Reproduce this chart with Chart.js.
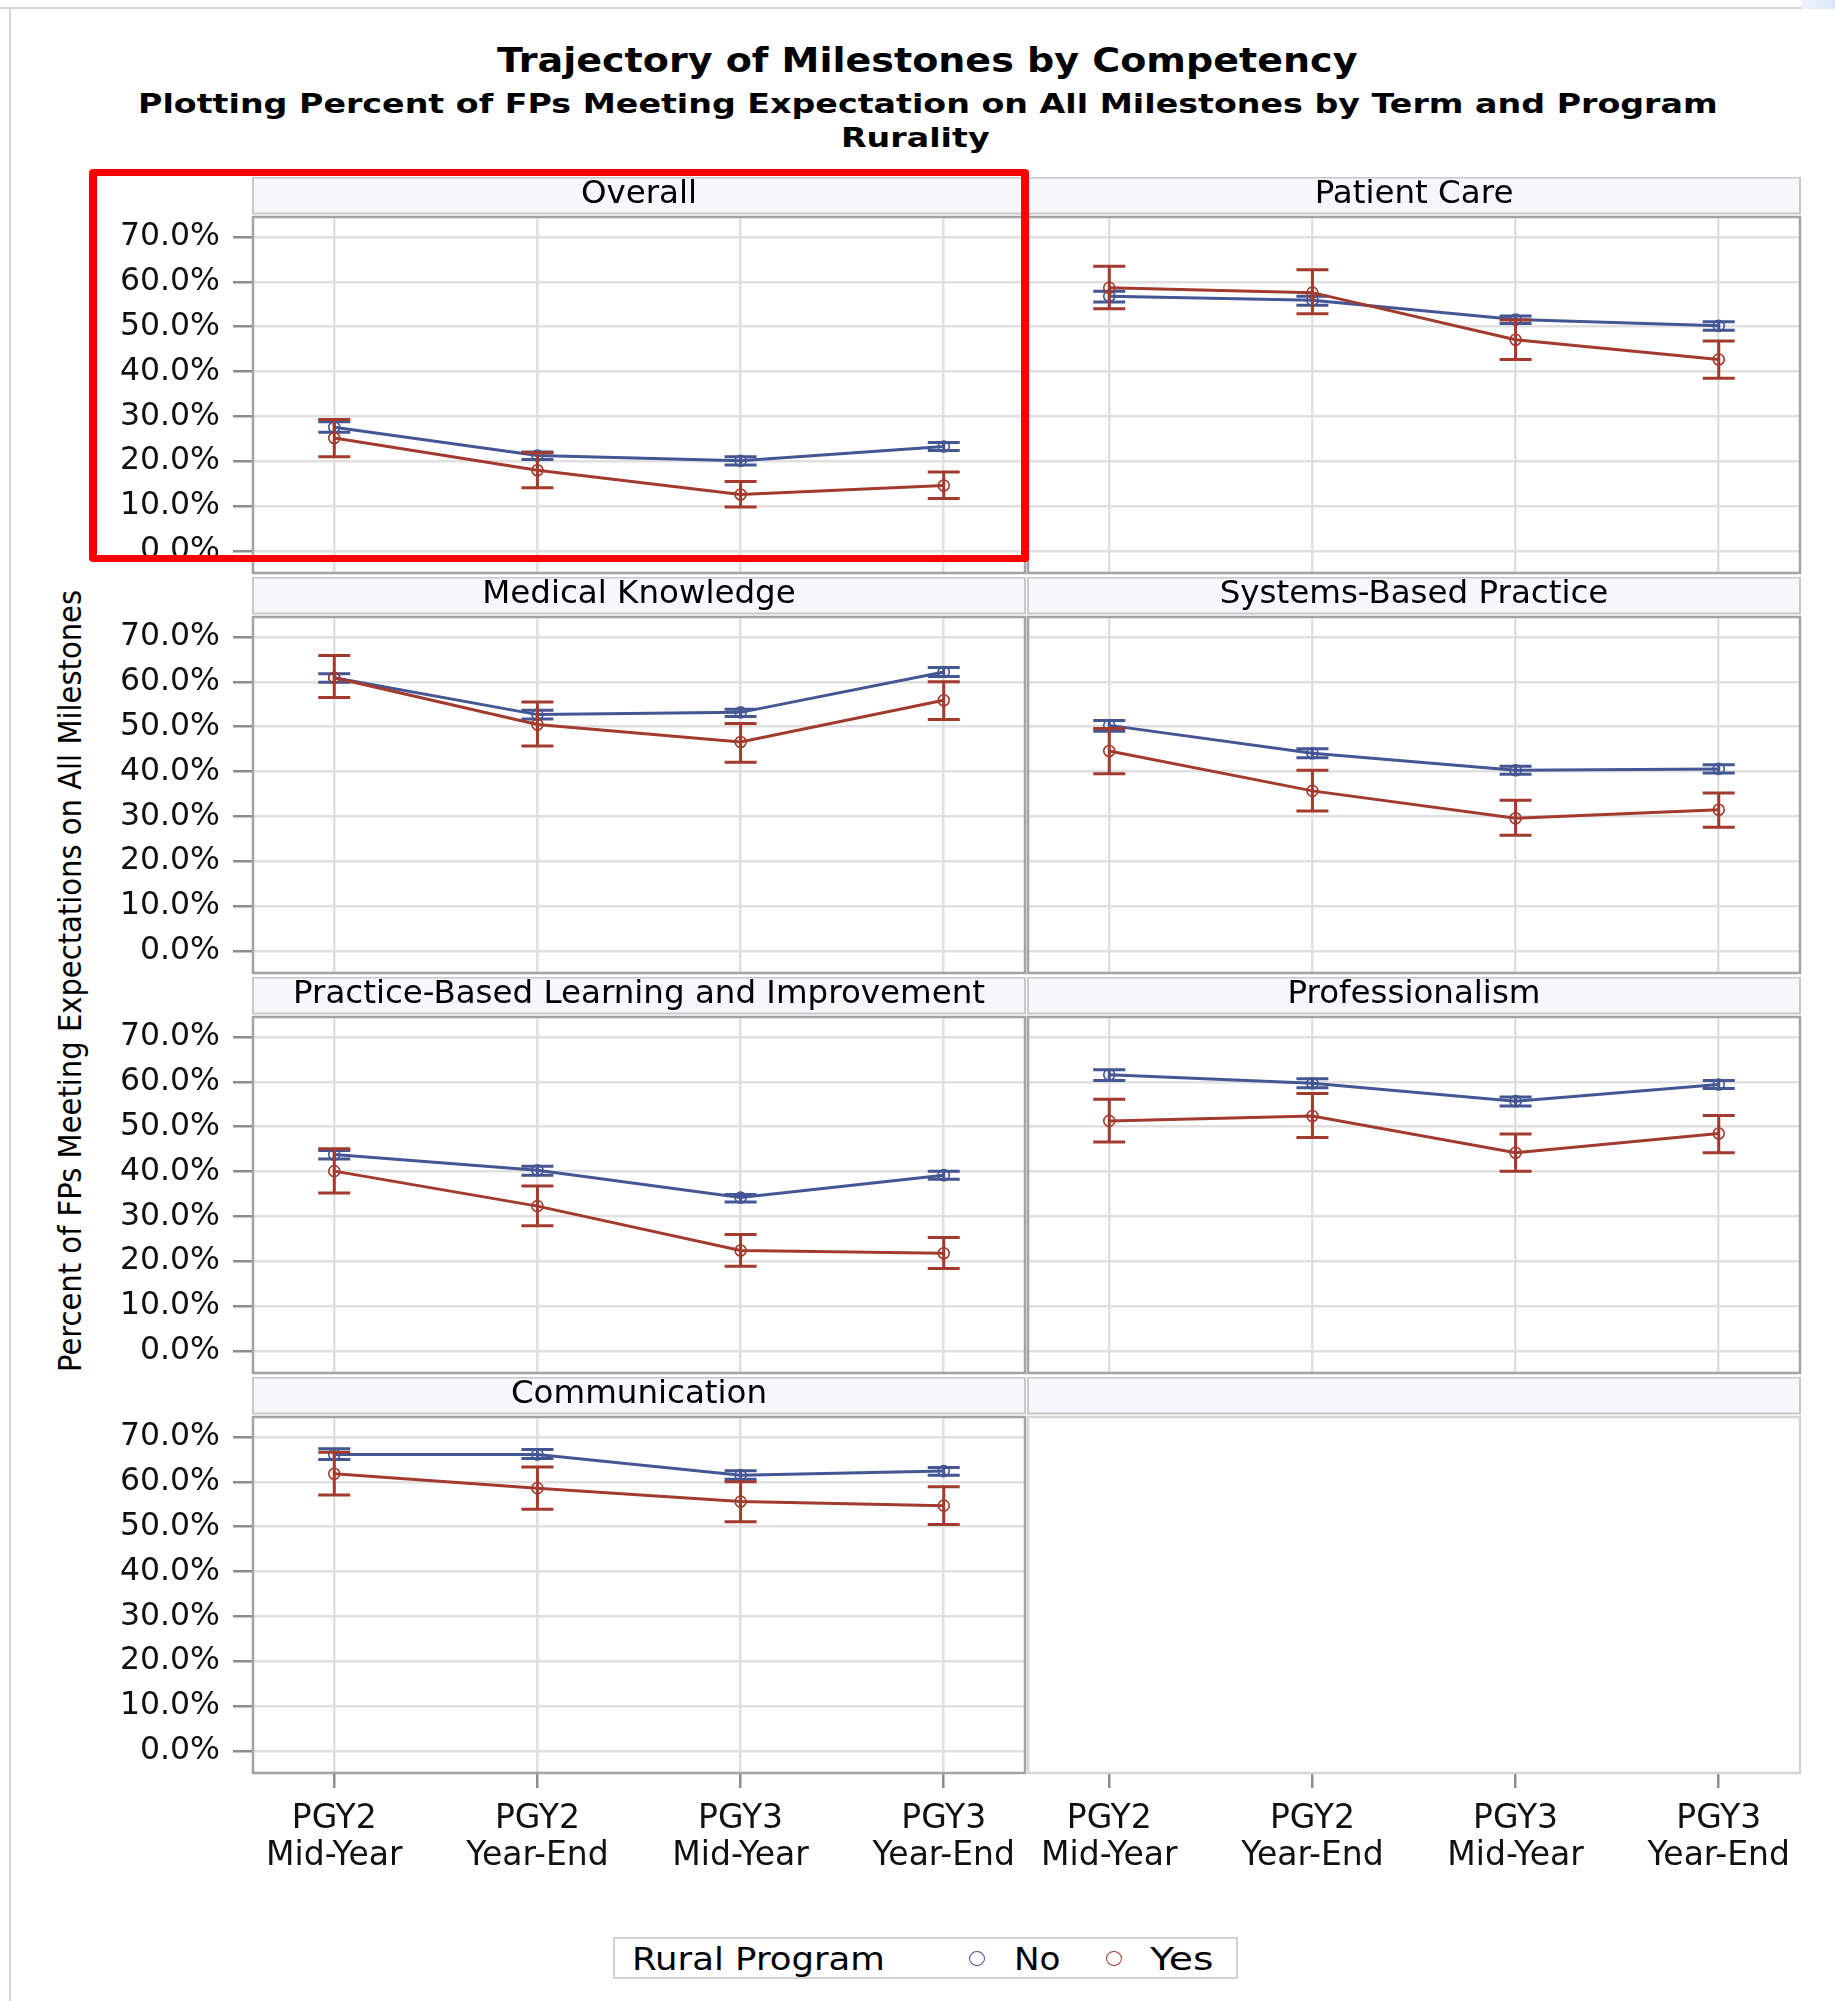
<!DOCTYPE html>
<html lang="en">
<head>
<meta charset="utf-8">
<title>Trajectory of Milestones by Competency</title>
<script src="https://cdn.jsdelivr.net/npm/chart.js@4.4.1/dist/chart.umd.min.js"></script>
<style>
  html, body { margin: 0; padding: 0; background: #ffffff; }
  body { position: relative; width: 1835px; height: 2001px; overflow: hidden;
         font-family: "DejaVu Sans", sans-serif; color: #000; }
  canvas { position: absolute; }
  .txt { position: absolute; white-space: nowrap; margin: 0; color: #000; }
  .rule { position: absolute; background: #d7d7d7; }
  .mark { position: absolute; box-sizing: border-box; border-radius: 50%; background: #fff; }
</style>
</head>
<body>
<div class="rule" style="left:0;top:7px;width:1802px;height:2px"></div>
<div class="rule" style="left:9px;top:7px;width:2px;height:1994px"></div>
<div style="position:absolute;left:1802px;top:0;width:33px;height:9px;background:linear-gradient(90deg,#eef4fb,#dae8f6)"></div>

<div id="title" class="txt" style="font-weight:bold">Trajectory of Milestones by Competency</div>
<div id="sub1" class="txt" style="font-weight:bold">Plotting Percent of FPs Meeting Expectation on All Milestones by Term and Program</div>
<div id="sub2" class="txt" style="font-weight:bold">Rurality</div>
<div id="ylabel" class="txt">Percent of FPs Meeting Expectations on All Milestones</div>

<div style="position:absolute;left:613px;top:1937px;width:625px;height:42px;box-sizing:border-box;border:2px solid #d2d2d2;background:#fff"></div>
<div id="legTitle" class="txt">Rural Program</div>
<div id="legNoMark" class="mark"></div>
<div id="legNo" class="txt">No</div>
<div id="legYesMark" class="mark"></div>
<div id="legYes" class="txt">Yes</div>

<div style="position:absolute;left:89px;top:169px;width:940px;height:393px;box-sizing:border-box;border:7px solid #ff0000;border-left-width:8px;border-right-width:8px;border-radius:4px;z-index:5"></div>

<script>
// ---- data -------------------------------------------------------------
const competencies = [
  "Overall", "Patient Care", "Medical Knowledge", "Systems-Based Practice",
  "Practice-Based Learning and Improvement", "Professionalism", "Communication"
];
const terms = [["PGY2", "Mid-Year"], ["PGY2", "Year-End"], ["PGY3", "Mid-Year"], ["PGY3", "Year-End"]];
const yTicks = [0, 10, 20, 30, 40, 50, 60, 70];
const ruralLevels = ["No", "Yes"];

// Rural Program = No : percent meeting expectations, with 95% limits
const noMean = [
  [27.6, 21.3, 20.1, 23.3],
  [56.8, 55.9, 51.6, 50.2],
  [60.9, 52.7, 53.2, 62.2],
  [50.3, 44.1, 40.3, 40.6],
  [43.8, 40.3, 34.2, 39.2],
  [61.6, 59.7, 55.7, 59.4],
  [66.1, 66.1, 61.5, 62.4]
];
const noLower = [
  [26.5, 20.4, 19.2, 22.4],
  [55.5, 54.8, 50.7, 49.2],
  [59.9, 51.7, 52.3, 61.2],
  [49.0, 43.1, 39.4, 39.7],
  [42.8, 39.2, 33.2, 38.3],
  [60.3, 58.7, 54.6, 58.5],
  [65.0, 65.2, 60.6, 61.5]
];
const noUpper = [
  [28.8, 22.1, 21.0, 24.2],
  [57.9, 56.8, 52.4, 51.1],
  [61.8, 53.7, 53.9, 63.2],
  [51.4, 45.1, 41.2, 41.5],
  [44.7, 41.2, 34.9, 40.1],
  [62.7, 60.7, 56.6, 60.3],
  [67.4, 67.2, 62.5, 63.2]
];

// Rural Program = Yes
const yesMean = [
  [25.2, 18.0, 12.6, 14.6],
  [58.7, 57.6, 47.1, 42.7],
  [60.9, 50.5, 46.6, 55.9],
  [44.6, 35.7, 29.6, 31.5],
  [40.1, 32.3, 22.4, 21.8],
  [51.3, 52.4, 44.2, 48.5],
  [61.8, 58.6, 55.6, 54.7]
];
const yesLower = [
  [21.0, 14.1, 9.8, 11.7],
  [54.0, 52.9, 42.7, 38.5],
  [56.5, 45.7, 42.1, 51.6],
  [39.5, 31.2, 25.8, 27.6],
  [35.2, 27.9, 18.9, 18.4],
  [46.6, 47.6, 40.1, 44.2],
  [57.1, 53.9, 51.1, 50.5]
];
const yesUpper = [
  [29.3, 21.9, 15.5, 17.6],
  [63.5, 62.7, 51.5, 46.8],
  [65.9, 55.5, 50.7, 60.0],
  [49.6, 40.3, 33.6, 35.2],
  [45.1, 36.8, 26.0, 25.3],
  [56.1, 57.4, 48.4, 52.5],
  [66.6, 63.3, 60.0, 58.9]
];

// ---- styling ----------------------------------------------------------
const FONT = '"DejaVu Sans", sans-serif';
const NO_COLOR = '#445694';
const YES_COLOR = '#A23A2E';
const GRID = '#e0e0e0';
const TICK_MARK = '#8c8c8c';
const LINE_W = 3;

// ---- page text --------------------------------------------------------
function placeText(id, o) {
  const el = document.getElementById(id);
  el.style.fontSize = o.size + 'px';
  el.style.lineHeight = o.size + 'px';
  const w = el.offsetWidth;
  const sx = o.width ? o.width / w : (o.scaleX || 1);
  // with a 1em line box the baseline sits about 0.846em below its top
  el.style.top = (o.baseline - 0.846 * o.size) + 'px';
  if (o.cx !== undefined) {
    el.style.left = (o.cx - w / 2) + 'px';
    el.style.transformOrigin = '50% 50%';
  } else {
    el.style.left = o.left + 'px';
    el.style.transformOrigin = '0 50%';
  }
  el.style.transform = 'scaleX(' + sx + ')';
  return sx;
}

placeText('title', { cx: 927, baseline: 72, size: 34.5, width: 860 });
const subScale = placeText('sub1', { cx: 928, baseline: 113, size: 27, width: 1580 });
placeText('sub2', { cx: 915, baseline: 147, size: 27, scaleX: subScale });

(function () {
  const el = document.getElementById('ylabel');
  const size = 32;
  el.style.fontSize = size + 'px';
  el.style.lineHeight = size + 'px';
  const w = el.offsetWidth;
  el.style.left = (70 - w / 2) + 'px';
  el.style.top = (981 - size / 2) + 'px';
  el.style.transform = 'rotate(-90deg) scaleX(' + (782 / w) + ')';
})();

placeText('legTitle', { left: 632, baseline: 1970, size: 32, width: 253 });
placeText('legNo', { left: 1014, baseline: 1970, size: 32, width: 47 });
placeText('legYes', { left: 1150, baseline: 1970, size: 32, width: 64 });
[['legNoMark', 976.5, NO_COLOR], ['legYesMark', 1114, YES_COLOR]].forEach(([id, cx, col]) => {
  const m = document.getElementById(id);
  m.style.left = (cx - 8) + 'px';
  m.style.top = (1958 - 7.5) + 'px';
  m.style.width = '16px';
  m.style.height = '15px';
  m.style.border = '1.6px solid ' + col;
});

// ---- plugins ----------------------------------------------------------
// Header strip with the competency name plus the framed plot box.
const panelFrame = {
  id: 'panelFrame',
  beforeDatasetsDraw(chart, args, opts) {
    const { ctx, chartArea: a } = chart;
    const w = a.right - a.left;
    ctx.save();
    const hTop = a.top - 39.5;
    ctx.fillStyle = '#f5f7fb';
    ctx.fillRect(a.left, hTop, w, 36);
    ctx.strokeStyle = '#c8c8c8';
    ctx.lineWidth = 2;
    ctx.strokeRect(a.left, hTop, w, 36);
    if (opts.title) {
      ctx.fillStyle = '#000';
      ctx.font = '32.5px ' + FONT;
      ctx.textAlign = 'center';
      ctx.textBaseline = 'middle';
      ctx.fillText(opts.title, (a.left + a.right) / 2, a.top - 22.5);
    }
    ctx.strokeStyle = opts.boxColor;
    ctx.lineWidth = 2.5;
    ctx.strokeRect(a.left, a.top, w, a.bottom - a.top);
    ctx.restore();
  }
};

// Confidence-limit bars with caps, drawn right after each series.
const errorBars = {
  id: 'errorBars',
  afterDatasetDraw(chart, args) {
    const ds = chart.data.datasets[args.index];
    if (!ds.lower) return;
    const xs = chart.scales.x, ys = chart.scales.y, ctx = chart.ctx;
    ctx.save();
    ctx.strokeStyle = ds.borderColor;
    ctx.lineWidth = LINE_W;
    ds.data.forEach((p, j) => {
      const x = xs.getPixelForValue(p.x);
      const lo = ys.getPixelForValue(ds.lower[j]);
      const hi = ys.getPixelForValue(ds.upper[j]);
      ctx.beginPath();
      ctx.moveTo(x, lo); ctx.lineTo(x, hi);
      ctx.moveTo(x - 16, lo); ctx.lineTo(x + 16, lo);
      ctx.moveTo(x - 16, hi); ctx.lineTo(x + 16, hi);
      ctx.stroke();
    });
    ctx.restore();
  }
};

// ---- panel grid -------------------------------------------------------
const ROW_TOP = [177, 577, 977, 1377];
const HEADER_GAP = 40;
const PLOT_H = 356;
const BOTTOM_AXIS_H = 150;
const LEFT_AXIS_W = 153;
const COLS = [
  { left: 100, width: 930, padL: 0, padR: 5 },
  { left: 1026, width: 790, padL: 2, padR: 16 }
];

function series(label, color, order, mean, lower, upper) {
  return {
    label, order,
    data: terms.map((t, j) => ({ x: j, y: mean[j] })),
    lower, upper,
    borderColor: color,
    backgroundColor: color,
    borderWidth: LINE_W,
    tension: 0,
    fill: false,
    pointStyle: 'circle',
    pointRadius: 5.5,
    pointBorderWidth: 1.6,
    pointBorderColor: color,
    pointBackgroundColor: 'rgba(255,255,255,0)'
  };
}

function makePanel(k) {
  const col = k % 2, row = Math.floor(k / 2);
  const c = COLS[col];
  const hasData = k < competencies.length;
  const isBottom = row === ROW_TOP.length - 1;
  const axisH = isBottom ? BOTTOM_AXIS_H : 0;

  const canvas = document.createElement('canvas');
  canvas.width = c.width;
  canvas.height = HEADER_GAP + PLOT_H + (isBottom ? axisH : 4);
  canvas.style.left = c.left + 'px';
  canvas.style.top = ROW_TOP[row] + 'px';
  document.body.appendChild(canvas);

  const datasets = hasData ? [
    series(ruralLevels[0], NO_COLOR, 1, noMean[k], noLower[k], noUpper[k]),
    series(ruralLevels[1], YES_COLOR, 0, yesMean[k], yesLower[k], yesUpper[k])
  ] : [];

  return new Chart(canvas, {
    type: 'line',
    data: { datasets },
    plugins: [panelFrame, errorBars],
    options: {
      responsive: false,
      animation: false,
      devicePixelRatio: 1,
      events: [],
      layout: {
        autoPadding: false,
        padding: { left: c.padL, right: c.padR, top: HEADER_GAP, bottom: isBottom ? 0 : 4 }
      },
      plugins: {
        legend: { display: false },
        tooltip: { enabled: false },
        title: { display: false },
        panelFrame: { title: hasData ? competencies[k] : '', boxColor: hasData ? '#a3a3a3' : '#d6d6d6' }
      },
      scales: {
        x: {
          type: 'linear',
          min: -0.4,
          max: 3.4,
          afterBuildTicks: s => { s.ticks = terms.map((t, j) => ({ value: j })); },
          afterFit: s => { s.height = axisH; s.paddingLeft = 0; s.paddingRight = 0; },
          border: { display: false },
          grid: {
            color: GRID, lineWidth: 2.5, drawOnChartArea: hasData,
            drawTicks: isBottom, tickLength: 15, tickColor: TICK_MARK, tickWidth: 2.5
          },
          ticks: {
            display: isBottom, autoSkip: false, maxRotation: 0, minRotation: 0, padding: 13,
            color: '#111', font: { family: FONT, size: 33, lineHeight: 1.12 },
            callback: v => terms[v]
          }
        },
        y: {
          type: 'linear',
          display: hasData,
          min: -4.9,
          max: 74.46,
          afterBuildTicks: s => { s.ticks = yTicks.map(v => ({ value: v })); },
          afterFit: s => { s.width = col === 0 ? LEFT_AXIS_W : 0; s.paddingTop = 0; s.paddingBottom = 0; },
          border: { display: false },
          grid: {
            color: GRID, lineWidth: 2.5,
            drawTicks: col === 0, tickLength: 20, tickColor: TICK_MARK, tickWidth: 2.5
          },
          ticks: {
            display: col === 0, autoSkip: false, padding: 13,
            color: '#111', font: { family: FONT, size: 31.5 },
            callback: v => v.toFixed(1) + '%'
          }
        }
      }
    }
  });
}

for (let k = 0; k < 8; k++) makePanel(k);
</script>
</body>
</html>
